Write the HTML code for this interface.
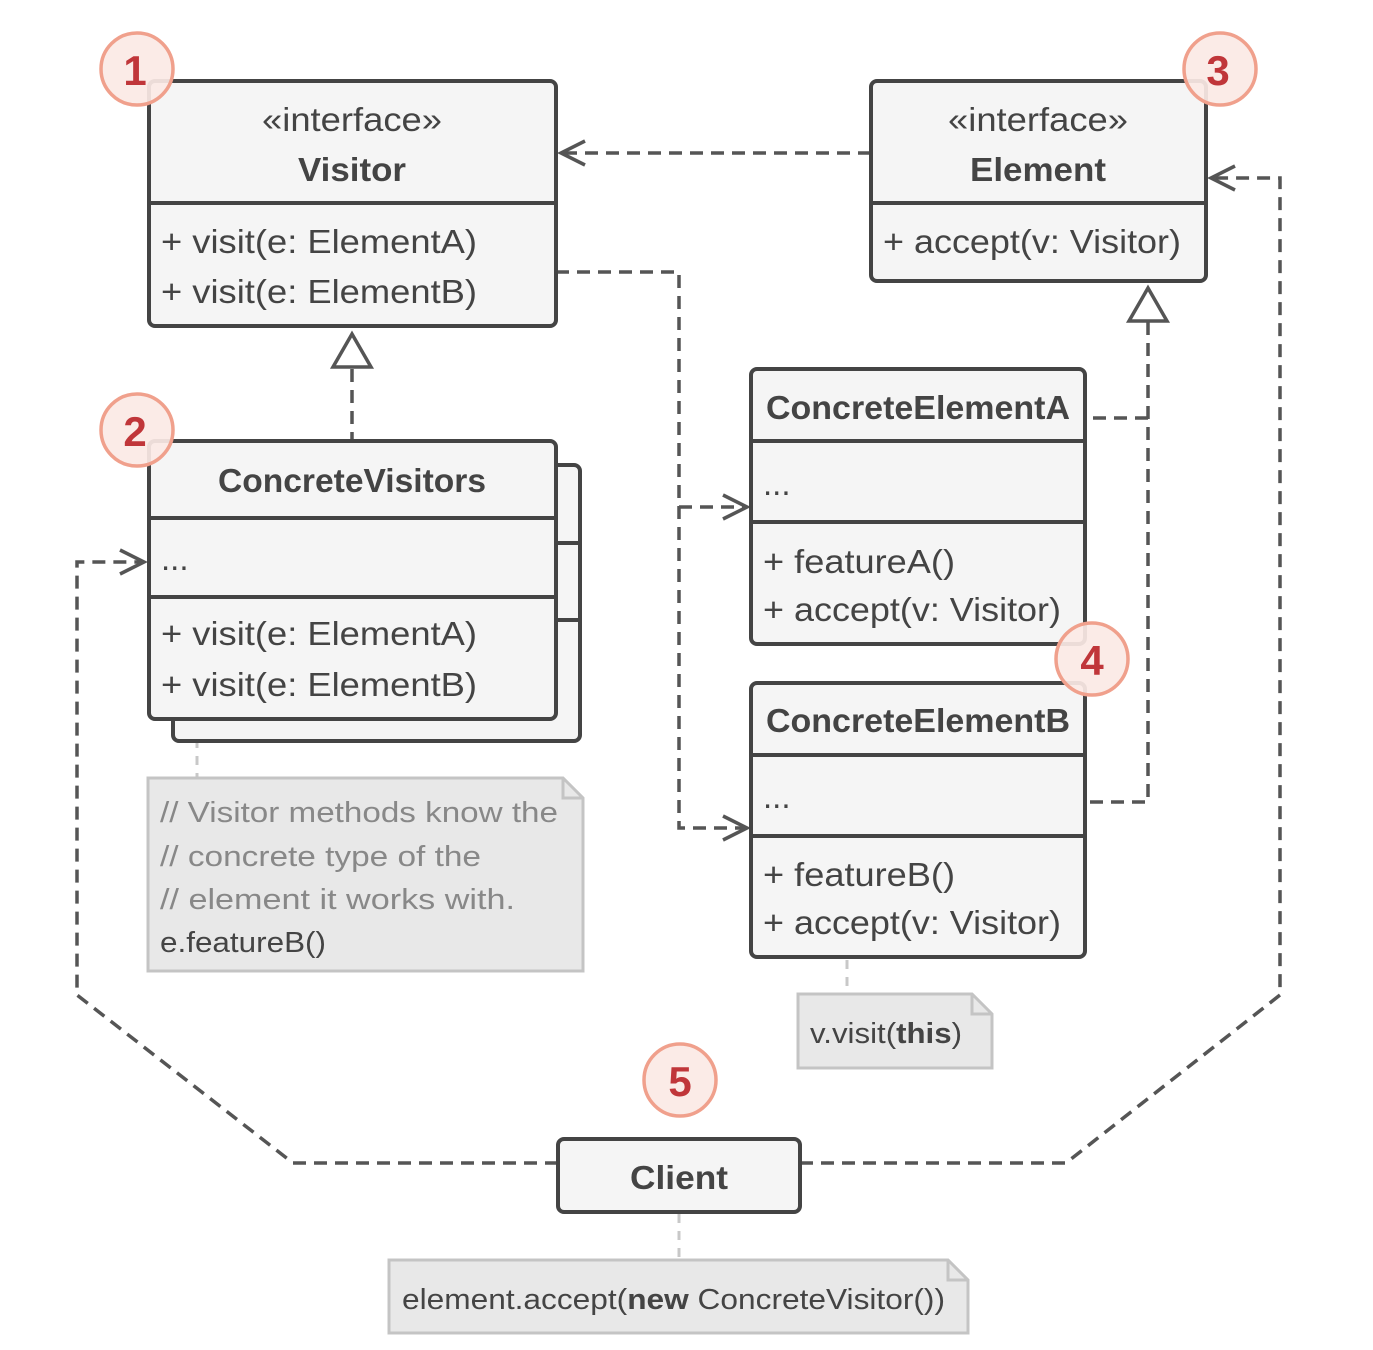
<!DOCTYPE html>
<html><head><meta charset="utf-8"><style>
html,body{margin:0;padding:0;background:#fff;}
svg{display:block;}
text{font-family:"Liberation Sans",sans-serif;fill:#444;}
.b{font-weight:bold;}
</style></head><body>
<svg width="1373" height="1350" viewBox="0 0 1373 1350" xmlns="http://www.w3.org/2000/svg">
<defs>
<marker id="ar" markerWidth="30" markerHeight="30" refX="25" refY="15" orient="auto" markerUnits="userSpaceOnUse">
<path d="M2,3 L26,15 L2,27" fill="none" stroke="#555" stroke-width="3.5"/>
</marker>
</defs>
<g fill="none" stroke="#555" stroke-width="3.5" stroke-dasharray="13,8">
<path d="M871,153 L562,153" marker-end="url(#ar)"/>
<path d="M556,272 L679,272 L679,828 L746,828" marker-end="url(#ar)"/>
<path d="M679,507 L746,507" marker-end="url(#ar)"/>
<path d="M352,369 L352,441"/>
<path d="M1148,322 L1148,802 L1085,802"/>
<path d="M1148,418 L1085,418"/>
<path d="M558,1163 L293,1163 L77,995 L77,562 L143,562" marker-end="url(#ar)"/>
<path d="M800,1163 L1066,1163 L1280,995 L1280,178 L1212,178" marker-end="url(#ar)"/>
</g>
<path d="M352,334 L333,367 L371,367 Z" fill="#fff" stroke="#555" stroke-width="3.5"/>
<path d="M1148,288 L1129,321 L1167,321 Z" fill="#fff" stroke="#555" stroke-width="3.5"/>
<g stroke="#c8c8c8" stroke-width="3" stroke-dasharray="9,8" fill="none">
<path d="M197,722 L197,778"/>
<path d="M847,960 L847,994"/>
<path d="M679,1214 L679,1260"/>
</g>

<g stroke="#444" stroke-width="4" fill="#f5f5f5">
<rect x="149" y="81" width="407" height="245" rx="6"/>
<line x1="149" y1="203" x2="556" y2="203"/>
<rect x="871" y="81" width="335" height="200" rx="6"/>
<line x1="871" y1="203" x2="1206" y2="203"/>
<rect x="173" y="465" width="407" height="276" rx="6"/>
<line x1="556" y1="543" x2="580" y2="543"/>
<line x1="556" y1="620" x2="580" y2="620"/>
<rect x="149" y="441" width="407" height="278" rx="6"/>
<line x1="149" y1="518" x2="556" y2="518"/>
<line x1="149" y1="597" x2="556" y2="597"/>
<rect x="751" y="369" width="334" height="275" rx="6"/>
<line x1="751" y1="441" x2="1085" y2="441"/>
<line x1="751" y1="522" x2="1085" y2="522"/>
<rect x="751" y="683" width="334" height="274" rx="6"/>
<line x1="751" y1="755" x2="1085" y2="755"/>
<line x1="751" y1="836" x2="1085" y2="836"/>
<rect x="558" y="1139" width="242" height="73" rx="6"/>
</g>

<g fill="#e8e8e8" stroke="#c4c4c4" stroke-width="3">
<path d="M148,778 L563,778 L583,798 L583,971 L148,971 Z"/>
<path d="M798,994 L972,994 L992,1014 L992,1068 L798,1068 Z"/>
<path d="M389,1260 L948,1260 L968,1280 L968,1333 L389,1333 Z"/>
</g>
<g fill="none" stroke="#c4c4c4" stroke-width="3">
<path d="M563,778 L563,798 L583,798"/>
<path d="M972,994 L972,1014 L992,1014"/>
<path d="M948,1260 L948,1280 L968,1280"/>
</g>

<g font-size="33">
<text x="352" y="131" text-anchor="middle" textLength="180" lengthAdjust="spacingAndGlyphs">«interface»</text>
<text x="352" y="181" text-anchor="middle" class="b" textLength="108" lengthAdjust="spacingAndGlyphs">Visitor</text>
<text x="161" y="253" textLength="316" lengthAdjust="spacingAndGlyphs">+ visit(e: ElementA)</text>
<text x="161" y="303" textLength="316" lengthAdjust="spacingAndGlyphs">+ visit(e: ElementB)</text>

<text x="1038" y="131" text-anchor="middle" textLength="180" lengthAdjust="spacingAndGlyphs">«interface»</text>
<text x="1038" y="181" text-anchor="middle" class="b" textLength="136" lengthAdjust="spacingAndGlyphs">Element</text>
<text x="883" y="253" textLength="298" lengthAdjust="spacingAndGlyphs">+ accept(v: Visitor)</text>

<text x="352" y="492" text-anchor="middle" class="b" textLength="268" lengthAdjust="spacingAndGlyphs">ConcreteVisitors</text>
<text x="161" y="570">...</text>
<text x="161" y="645" textLength="316" lengthAdjust="spacingAndGlyphs">+ visit(e: ElementA)</text>
<text x="161" y="696" textLength="316" lengthAdjust="spacingAndGlyphs">+ visit(e: ElementB)</text>

<text x="918" y="419" text-anchor="middle" class="b" textLength="304" lengthAdjust="spacingAndGlyphs">ConcreteElementA</text>
<text x="763" y="495">...</text>
<text x="763" y="573" textLength="192" lengthAdjust="spacingAndGlyphs">+ featureA()</text>
<text x="763" y="621" textLength="298" lengthAdjust="spacingAndGlyphs">+ accept(v: Visitor)</text>

<text x="918" y="732" text-anchor="middle" class="b" textLength="304" lengthAdjust="spacingAndGlyphs">ConcreteElementB</text>
<text x="763" y="808">...</text>
<text x="763" y="886" textLength="192" lengthAdjust="spacingAndGlyphs">+ featureB()</text>
<text x="763" y="934" textLength="298" lengthAdjust="spacingAndGlyphs">+ accept(v: Visitor)</text>

<text x="679" y="1189" text-anchor="middle" class="b" textLength="98" lengthAdjust="spacingAndGlyphs">Client</text>
</g>
<g font-size="29">
<text x="160" y="822" style="fill:#888" textLength="398" lengthAdjust="spacingAndGlyphs">// Visitor methods know the</text>
<text x="160" y="866" style="fill:#888" textLength="321" lengthAdjust="spacingAndGlyphs">// concrete type of the</text>
<text x="160" y="909" style="fill:#888" textLength="355" lengthAdjust="spacingAndGlyphs">// element it works with.</text>
<text x="160" y="952" textLength="166" lengthAdjust="spacingAndGlyphs">e.featureB()</text>
<text x="810" y="1043" textLength="152" lengthAdjust="spacingAndGlyphs">v.visit(<tspan class="b">this</tspan>)</text>
<text x="402" y="1309" textLength="543" lengthAdjust="spacingAndGlyphs">element.accept(<tspan class="b">new</tspan> ConcreteVisitor())</text>
</g>

<g stroke="#f0a08c" stroke-width="3.5" fill="#fbe9e5" fill-opacity="0.92">
<circle cx="137" cy="69" r="36"/>
<circle cx="137" cy="430" r="36"/>
<circle cx="1220" cy="69" r="36"/>
<circle cx="1092" cy="659" r="36"/>
<circle cx="680" cy="1080" r="36"/>
</g>
<g font-size="42" font-weight="bold" text-anchor="middle">
<text x="135" y="85" style="fill:#c0363a">1</text>
<text x="135" y="446" style="fill:#c0363a">2</text>
<text x="1218" y="85" style="fill:#c0363a">3</text>
<text x="1092" y="675" style="fill:#c0363a">4</text>
<text x="680" y="1096" style="fill:#c0363a">5</text>
</g>
</svg>
</body></html>
